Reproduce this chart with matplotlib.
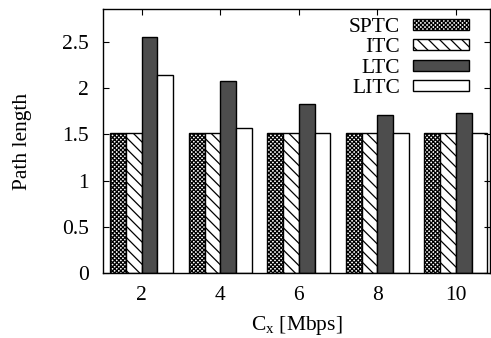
import matplotlib
matplotlib.use("Agg")
import matplotlib.pyplot as plt
import numpy as np

plt.rcParams['font.family'] = ['Liberation Serif', 'DejaVu Serif']
plt.rcParams['mathtext.fontset'] = 'custom'
plt.rcParams['mathtext.rm'] = 'Liberation Serif'
plt.rcParams['mathtext.it'] = 'Liberation Serif:italic'
plt.rcParams['hatch.linewidth'] = 0.9

categories = [2, 4, 6, 8, 10]
series_names = ['SPTC', 'ITC', 'LTC', 'LITC']
sptc = [1.52, 1.52, 1.52, 1.52, 1.52]
itc = [1.52, 1.52, 1.52, 1.52, 1.52]
ltc = [2.55, 2.08, 1.83, 1.71, 1.73]
litc = [2.14, 1.57, 1.52, 1.52, 1.52]
yticks = [0, 0.5, 1, 1.5, 2, 2.5]
ytick_labels = ['0', '0.5', '1', '1.5', '2', '2.5']

FS = 15.5

fig = plt.figure(figsize=(4.91, 3.38), dpi=100)
ax = fig.add_axes([0.2088, 0.1914, 0.790, 0.7805])

width = 0.4
offsets = [-1.5 * width, -0.5 * width, 0.5 * width, 1.5 * width]
styles = [
    dict(facecolor='white', hatch='xxxxxxxx'),
    dict(facecolor='white', hatch='\\\\\\'),
    dict(facecolor='#4d4d4d'),
    dict(facecolor='white'),
]
x = np.array(categories, dtype=float)
for vals, name, off, st in zip([sptc, itc, ltc, litc], series_names, offsets, styles):
    ax.bar(x + off, vals, width, edgecolor='black', linewidth=1.0, label=name, **st)

ax.set_xlim(1, 10.88)
ax.set_ylim(0, 2.85)
ax.set_xticks(categories)
ax.set_xticklabels([str(c) for c in categories])
ax.set_yticks(yticks)
ax.set_yticklabels(ytick_labels)
ax.tick_params(direction='in', top=True, right=True, length=4, width=0.8, labelsize=FS)
ax.tick_params(axis='y', pad=10)
ax.tick_params(axis='x', pad=9)
for s in ax.spines.values():
    s.set_linewidth(1.0)

ax.set_ylabel('Path length', fontsize=FS)
ax.yaxis.set_label_coords(-0.183, 0.5)
ax.set_xlabel(r'C$_\mathrm{x}$ [Mbps]', fontsize=FS)
ax.xaxis.set_label_coords(0.5, -0.155)

leg = ax.legend(loc='upper right', bbox_to_anchor=(0.945, 0.968), markerfirst=False,
                frameon=False, fontsize=FS,
                handlelength=2.6, handleheight=0.4, labelspacing=0.07,
                borderaxespad=0.0, borderpad=0.0, handletextpad=0.6)

fig.savefig('out.png', dpi=100)
